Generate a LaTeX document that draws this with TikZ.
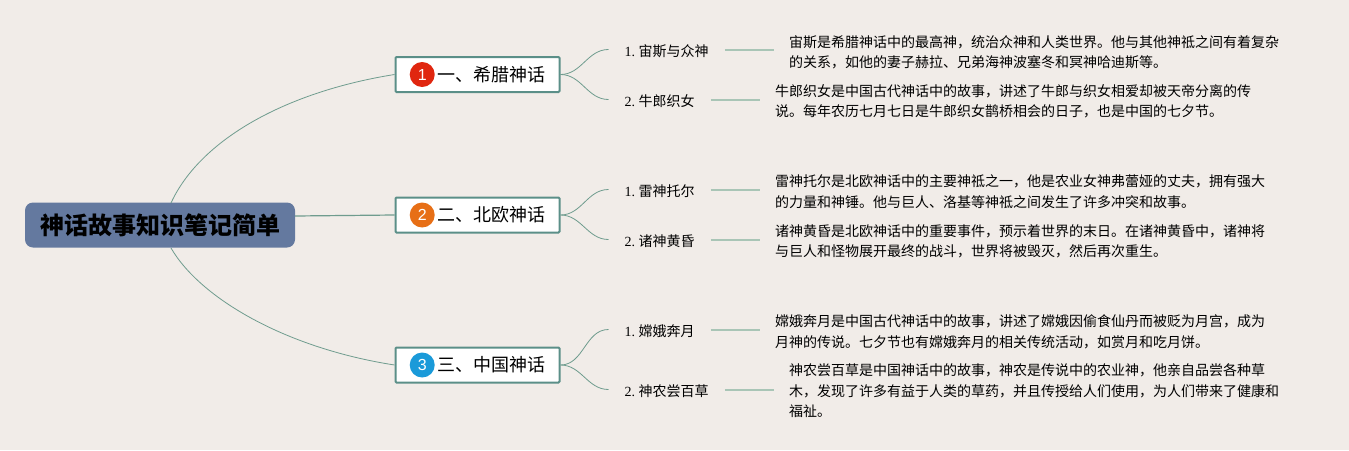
\documentclass[tikz,border=0pt]{standalone}
\usepackage{fontspec}
\usetikzlibrary{positioning}
\setmainfont{Liberation Serif}
\newfontfamily\cjk{Noto Sans CJK SC}
\newfontfamily\numfont{Liberation Sans}
\definecolor{bgcol}{HTML}{F1ECE8}
\definecolor{edgecol}{HTML}{6F9C8E}
\definecolor{stubcol}{HTML}{A9C5B6}
\definecolor{boxcol}{HTML}{5B8F88}
\definecolor{rootcol}{HTML}{64799F}
\definecolor{redcol}{HTML}{E0260F}
\definecolor{orangecol}{HTML}{E76F16}
\definecolor{bluecol}{HTML}{1A9AD9}
\begin{document}
\begin{tikzpicture}[x=1pt, y=-1pt,
    root/.style={fill=rootcol, rounded corners=8pt, minimum width=270pt, minimum height=45pt,
      inner sep=0pt, font=\fontsize{24}{28}\selectfont\cjk\bfseries},
    branch/.style={draw=boxcol, line width=2pt, fill=white, rounded corners=1pt, minimum width=164pt,
      minimum height=35pt, inner sep=0pt, font=\fontsize{18}{22}\selectfont\cjk},
    icon/.style={circle, minimum size=25pt, inner sep=0pt, text=white,
      font=\fontsize{16}{18}\selectfont\numfont},
    leaf/.style={anchor=west, inner xsep=16pt, inner ysep=2pt, text height=14pt, text depth=0pt,
      font=\fontsize{14}{18}\selectfont},
    desc/.style={anchor=west, align=left, inner xsep=15pt, inner ysep=0pt,
      font=\fontsize{14}{20.5}\selectfont\cjk},
    link/.style={edgecol, line width=0.8pt},
    stub/.style={stubcol, line width=2pt}]

  \fill[bgcol] (0,0) rectangle (1349,450);

  \node[root] (root) at (160,225) {神话故事知识笔记简单};
  \coordinate (roottop) at (171,203);
  \coordinate (rootright) at (295,216);
  \coordinate (rootbottom) at (171,248);

  \node[branch] (greek) at (477.5,74.5) {\hspace{27pt}一、希腊神话};
  \node[branch] (norse) at (477.5,215) {\hspace{27pt}二、北欧神话};
  \node[branch] (china) at (477.5,365) {\hspace{27pt}三、中国神话};

  \node[icon,fill=redcol,right=15pt of greek.west] (icongreek) {1};
  \node[icon,fill=orangecol,right=15pt of norse.west] (iconnorse) {2};
  \node[icon,fill=bluecol,right=15pt of china.west] (iconchina) {3};

  \node[leaf] (zeus) at (608.5,49.5) {1.\kern3.5pt{\cjk 宙斯与众神}};
  \node[leaf] (cowherd) at (608.5,99.5) {2.\kern3.5pt{\cjk 牛郎织女}};
  \node[leaf] (thor) at (608.5,189.5) {1.\kern3.5pt{\cjk 雷神托尔}};
  \node[leaf] (ragnarok) at (608.5,239.5) {2.\kern3.5pt{\cjk 诸神黄昏}};
  \node[leaf] (change) at (608.5,329.5) {1.\kern3.5pt{\cjk 嫦娥奔月}};
  \node[leaf] (shennong) at (608.5,389.5) {2.\kern3.5pt{\cjk 神农尝百草}};

  \node[desc] (desczeus) at (774,52.5) {宙斯是希腊神话中的最高神，统治众神和人类世界。他与其他神祗之间有着复杂\\的关系，如他的妻子赫拉、兄弟海神波塞冬和冥神哈迪斯等。};
  \node[desc] (desccowherd) at (760,101.5) {牛郎织女是中国古代神话中的故事，讲述了牛郎与织女相爱却被天帝分离的传\\说。每年农历七月七日是牛郎织女鹊桥相会的日子，也是中国的七夕节。};
  \node[desc] (descthor) at (760,191.5) {雷神托尔是北欧神话中的主要神祗之一，他是农业女神弗蕾娅的丈夫，拥有强大\\的力量和神锤。他与巨人、洛基等神祗之间发生了许多冲突和故事。};
  \node[desc] (descragnarok) at (760,241.5) {诸神黄昏是北欧神话中的重要事件，预示着世界的末日。在诸神黄昏中，诸神将\\与巨人和怪物展开最终的战斗，世界将被毁灭，然后再次重生。};
  \node[desc] (descchange) at (760,332) {嫦娥奔月是中国古代神话中的故事，讲述了嫦娥因偷食仙丹而被贬为月宫，成为\\月神的传说。七夕节也有嫦娥奔月的相关传统活动，如赏月和吃月饼。};
  \node[desc] (descshennong) at (774,391) {神农尝百草是中国神话中的故事，神农是传说中的农业神，他亲自品尝各种草\\木，发现了许多有益于人类的草药，并且传授给人们使用，为人们带来了健康和\\福祉。};

  \draw[link] (roottop) .. controls (200,140) and (285,92) .. (greek.west);
  \draw[link,line width=1.2pt] (rootright) -- (norse.west);
  \draw[link] (rootbottom) .. controls (200,298) and (285,348) .. (china.west);

  \draw[link] (greek.east) to[out=0,in=180] (zeus.west);
  \draw[link] (greek.east) to[out=0,in=180] (cowherd.west);
  \draw[link] (norse.east) to[out=0,in=180] (thor.west);
  \draw[link] (norse.east) to[out=0,in=180] (ragnarok.west);
  \draw[link] (china.east) to[out=0,in=180] (change.west);
  \draw[link] (china.east) to[out=0,in=180] (shennong.west);

  \draw[stub] (zeus.east) -- (zeus.east -| desczeus.west);
  \draw[stub] (cowherd.east) -- (cowherd.east -| desccowherd.west);
  \draw[stub] (thor.east) -- (thor.east -| descthor.west);
  \draw[stub] (ragnarok.east) -- (ragnarok.east -| descragnarok.west);
  \draw[stub] (change.east) -- (change.east -| descchange.west);
  \draw[stub] (shennong.east) -- (shennong.east -| descshennong.west);
\end{tikzpicture}
\end{document}
